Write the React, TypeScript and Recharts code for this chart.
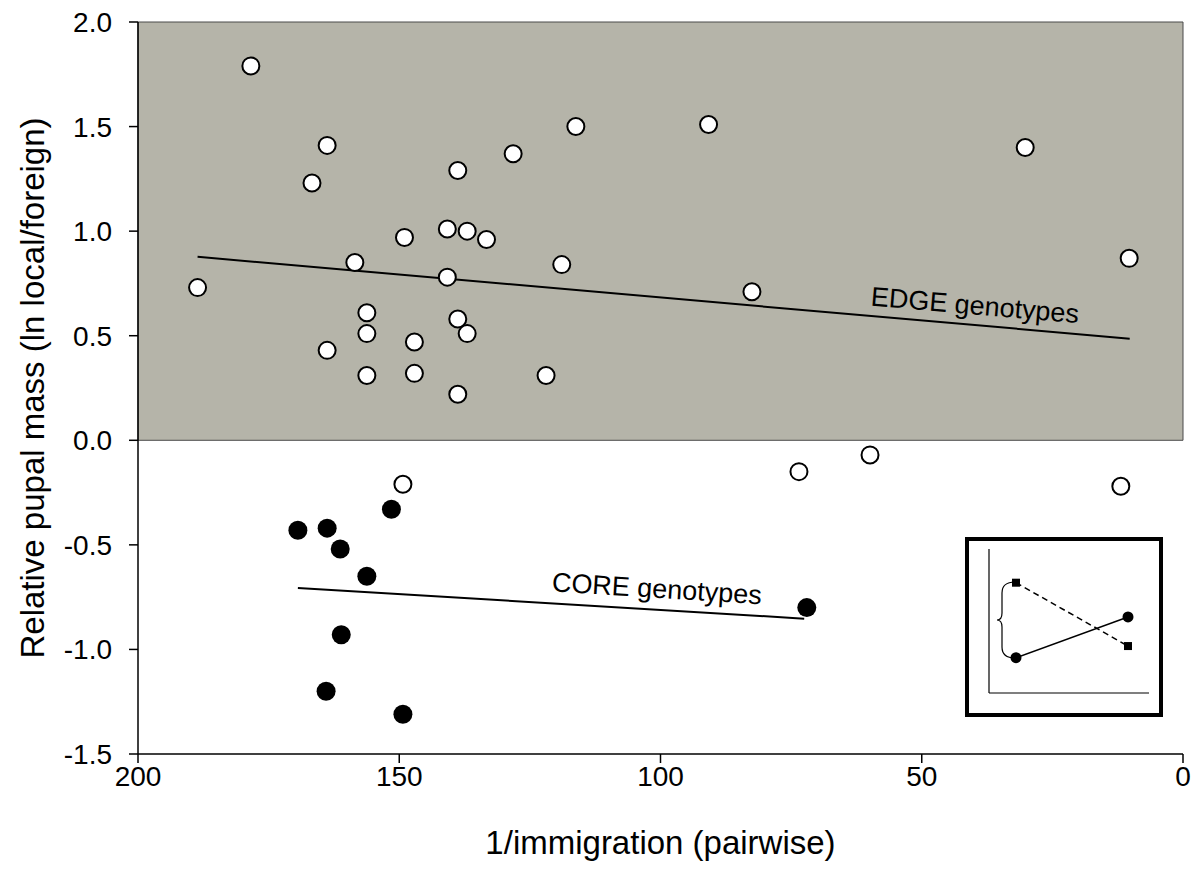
import {
  ScatterChart,
  Scatter,
  XAxis,
  YAxis,
  ReferenceArea,
  ReferenceLine,
  ReferenceDot,
  LineChart,
  Line,
} from "recharts"

// EDGE genotypes (open circles)
const edgeX = [188.6, 178.4, 163.8, 166.7, 163.8, 158.5, 156.2, 156.2, 156.2, 149.0, 147.1, 147.1, 149.3, 140.8, 137.0, 133.3, 138.8, 140.8, 138.8, 137.0, 138.8, 128.2, 116.2, 118.9, 121.9, 90.8, 82.5, 73.5, 59.9, 30.2, 10.3, 11.9]
const edgeY = [0.73, 1.79, 1.41, 1.23, 0.43, 0.85, 0.61, 0.51, 0.31, 0.97, 0.47, 0.32, -0.21, 1.01, 1.0, 0.96, 1.29, 0.78, 0.58, 0.51, 0.22, 1.37, 1.5, 0.84, 0.31, 1.51, 0.71, -0.15, -0.07, 1.4, 0.87, -0.22]

// CORE genotypes (filled circles)
const coreX = [169.4, 163.8, 161.3, 151.5, 156.2, 161.1, 164.0, 149.3, 72.0]
const coreY = [-0.43, -0.42, -0.52, -0.33, -0.65, -0.93, -1.2, -1.31, -0.8]

// regression lines
const edgeFitX = [188.6, 10.2]
const edgeFitY = [0.877, 0.486]
const coreFitX = [169.4, 72.5]
const coreFitY = [-0.706, -0.853]

const xTicks = [0, 50, 100, 150, 200]
const yTicks = [-1.5, -1.0, -0.5, 0, 0.5, 1.0, 1.5, 2.0]

// inset sketch
const insetX = [1, 2]
const insetSolid = [2.45, 5.28]
const insetDashed = [7.66, 3.26]

const edgeData = edgeX.map((x, i) => ({ x, y: edgeY[i] }))
const coreData = coreX.map((x, i) => ({ x, y: coreY[i] }))
const insetData = insetX.map((x, i) => ({ x, solid: insetSolid[i], dashed: insetDashed[i] }))

const FONT = "Arial, 'Liberation Sans', sans-serif"

const OpenDot = (p: any) => (
  <circle cx={p.cx} cy={p.cy} r={8.5} fill="#fff" stroke="#000" strokeWidth={2} />
)
const FilledDot = (p: any) => <circle cx={p.cx} cy={p.cy} r={9.5} fill="#000" />

const SquareDot = (p: any) => (
  <rect x={p.cx - 4} y={p.cy - 4} width={8} height={8} fill="#000" />
)
const RoundDot = (p: any) => <circle cx={p.cx} cy={p.cy} r={5.5} fill="#000" />

function tiltedText(label: string, angle: number) {
  return (p: any) => (
    <text
      x={p.cx}
      y={p.cy}
      transform={`rotate(${angle} ${p.cx} ${p.cy})`}
      textAnchor="middle"
      dominantBaseline="central"
      fontSize={27}
      fontFamily={FONT}
      fill="#000"
    >
      {label}
    </text>
  )
}

function Inset() {
  return (
    <div
      style={{
        position: "absolute",
        left: 965,
        top: 537,
        width: 198,
        height: 180,
        border: "4px solid #000",
        boxSizing: "border-box",
        background: "#fff",
      }}
    >
      <LineChart
        width={190}
        height={172}
        data={insetData}
        margin={{ top: 8, right: 10, bottom: 19, left: 19 }}
      >
        <XAxis
          dataKey="x"
          type="number"
          domain={[0.759, 2.1875]}
          height={1}
          tick={false}
          tickLine={false}
          axisLine={{ stroke: "#000", strokeWidth: 1.2 }}
        />
        <YAxis
          type="number"
          domain={[0, 10]}
          width={1}
          tick={false}
          tickLine={false}
          axisLine={{ stroke: "#000", strokeWidth: 1.2 }}
        />
        <Line
          dataKey="dashed"
          stroke="#000"
          strokeWidth={1.5}
          strokeDasharray="6 4"
          dot={SquareDot}
          isAnimationActive={false}
        />
        <Line
          dataKey="solid"
          stroke="#000"
          strokeWidth={1.5}
          dot={RoundDot}
          isAnimationActive={false}
        />
      </LineChart>
      <svg
        width={190}
        height={172}
        style={{ position: "absolute", left: 0, top: 0 }}
      >
        <path
          d="M46 41 Q33 41 33 52 L33 72 Q33 79 28 79 Q33 79 33 86 L33 106 Q33 117 46 117"
          fill="none"
          stroke="#000"
          strokeWidth={1.2}
        />
      </svg>
    </div>
  )
}

export default function App() {
  return (
    <div style={{ position: "absolute", left: 0, top: 0, width: 1200, height: 873, background: "#fff" }}>
      <ScatterChart
        width={1200}
        height={873}
        margin={{ top: 22, right: 17, bottom: 39, left: 0 }}
      >
        <XAxis
          dataKey="x"
          type="number"
          domain={[0, 200]}
          ticks={xTicks}
          reversed
          height={80}
          tickSize={9}
          tickMargin={3}
          axisLine={{ stroke: "#000", strokeWidth: 1.5 }}
          tickLine={{ stroke: "#000", strokeWidth: 1.5 }}
          tick={{ fill: "#000", fontSize: 28, fontFamily: FONT }}
          label={{
            content: (p: any) => {
              const vb = p.viewBox
              return (
                <text
                  x={vb.x + vb.width / 2}
                  y={vb.y + 88}
                  textAnchor="middle"
                  dominantBaseline="central"
                  fontSize={33}
                  fontFamily={FONT}
                  fill="#000"
                >
                  1/immigration (pairwise)
                </text>
              )
            },
          }}
        />
        <YAxis
          dataKey="y"
          type="number"
          domain={[-1.5, 2]}
          ticks={yTicks}
          width={138}
          tickSize={9}
          tickMargin={17}
          tickFormatter={(v: number) => v.toFixed(1)}
          axisLine={{ stroke: "#000", strokeWidth: 1.5 }}
          tickLine={{ stroke: "#000", strokeWidth: 1.5 }}
          tick={{ fill: "#000", fontSize: 28, fontFamily: FONT }}
          label={{
            content: (p: any) => {
              const vb = p.viewBox
              const cx = vb.x + 32
              const cy = vb.y + vb.height / 2
              return (
                <text
                  x={cx}
                  y={cy}
                  transform={`rotate(-90 ${cx} ${cy})`}
                  textAnchor="middle"
                  dominantBaseline="central"
                  fontSize={33}
                  fontFamily={FONT}
                  fill="#000"
                >
                  Relative pupal mass (ln local/foreign)
                </text>
              )
            },
          }}
        />
        <ReferenceArea
          x1={0}
          x2={200}
          y1={0}
          y2={2}
          fill="#b5b4a9"
          fillOpacity={1}
          stroke="#4a4a4a"
          strokeWidth={1}
        />
        <ReferenceLine
          segment={[
            { x: edgeFitX[0], y: edgeFitY[0] },
            { x: edgeFitX[1], y: edgeFitY[1] },
          ]}
          stroke="#000"
          strokeWidth={2}
        />
        <ReferenceLine
          segment={[
            { x: coreFitX[0], y: coreFitY[0] },
            { x: coreFitX[1], y: coreFitY[1] },
          ]}
          stroke="#000"
          strokeWidth={2}
        />
        <ReferenceDot x={39.8} y={0.645} r={0} shape={tiltedText("EDGE genotypes", 4.8)} />
        <ReferenceDot x={100.7} y={-0.71} r={0} shape={tiltedText("CORE genotypes", 3.6)} />
        <Scatter data={edgeData} shape={OpenDot} isAnimationActive={false} />
        <Scatter data={coreData} shape={FilledDot} isAnimationActive={false} />
      </ScatterChart>
      <Inset />
    </div>
  )
}
